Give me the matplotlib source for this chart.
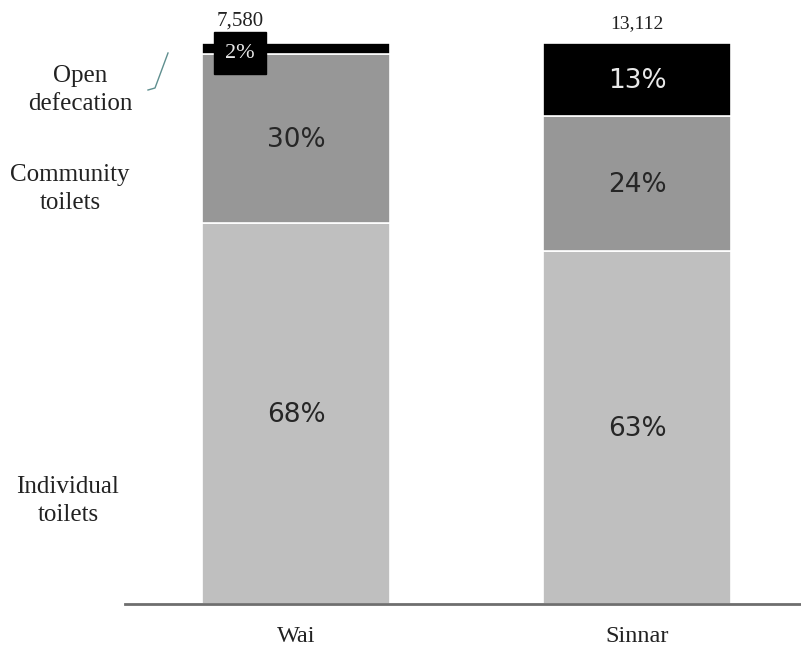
import matplotlib
matplotlib.use("Agg")
import matplotlib.pyplot as plt
from matplotlib.lines import Line2D

# data
places = ["Wai", "Sinnar"]
totals = ["7,580", "13,112"]
individual = [68, 63]
community = [30, 24]
open_def = [2, 13]
seg_names = ["Individual\ntoilets", "Community\ntoilets", "Open\ndefecation"]
seg_colors = ["#bfbfbf", "#979797", "#000000"]

serif = ["Liberation Serif", "DejaVu Serif"]
sans = ["DejaVu Sans"]

fig = plt.figure(figsize=(8.01, 6.51), dpi=100)
ax = fig.add_axes([125 / 801, 47 / 651, 676 / 801, 561 / 651])

x = [0, 1]
w = 0.551
bottoms = [0, 0]
for vals, col in zip([individual, community, open_def], seg_colors):
    ax.bar(x, vals, width=w, bottom=bottoms, color=col, edgecolor="white", linewidth=1.2)
    bottoms = [b + v for b, v in zip(bottoms, vals)]

# percent labels
for i in range(2):
    ax.text(x[i], individual[i] / 2 - 0.3, f"{individual[i]}%", ha="center", va="center",
            fontsize=19, family=sans, color="#262626")
    ax.text(x[i], individual[i] + community[i] / 2 - 0.3, f"{community[i]}%", ha="center", va="center",
            fontsize=19, family=sans, color="#262626")

# Sinnar open defecation inside the bar
ax.text(x[1], individual[1] + community[1] + open_def[1] / 2 - 0.3, f"{open_def[1]}%", ha="center",
        va="center", fontsize=19, family=sans, color="#e8e8e8")
# Wai open defecation is too thin, label in a black box
ax.text(x[0] - 0.165, 98.2, f"{open_def[0]}%", ha="center", va="center", fontsize=16, family=serif,
        color="#e8e8e8", bbox=dict(boxstyle="square,pad=0.5", fc="black", ec="black"))

# totals above bars
ax.text(x[0] - 0.165, 102.3, totals[0], ha="center", va="bottom", fontsize=15, family=serif, color="#222222")
ax.text(x[1], 102.0, totals[1], ha="center", va="bottom", fontsize=14, family=serif, color="#222222")

ax.set_xlim(-0.5015, 1.481)
ax.set_ylim(0, 100)
for s in ["top", "right", "left"]:
    ax.spines[s].set_visible(False)
ax.spines["bottom"].set_color("#6e6e6e")
ax.spines["bottom"].set_linewidth(2)
ax.set_yticks([])
ax.set_xticks(x)
ax.set_xticklabels(places, family=serif, fontsize=17.5, color="#222222")
ax.tick_params(axis="x", length=0, pad=16)

# segment names on the left
fig.text(80 / 801, 1 - 90 / 651, seg_names[2], ha="center", va="center", fontsize=18, family=serif,
         color="#222222", linespacing=1.3)
fig.text(70 / 801, 1 - 189 / 651, seg_names[1], ha="center", va="center", fontsize=18, family=serif,
         color="#222222", linespacing=1.3)
fig.text(68 / 801, 1 - 501 / 651, seg_names[0], ha="center", va="center", fontsize=18, family=serif,
         color="#222222", linespacing=1.3)

# little leader stroke next to "Open defecation"
fig.add_artist(Line2D([148 / 801, 155 / 801, 168 / 801], [1 - 90 / 651, 1 - 88 / 651, 1 - 53 / 651],
                      transform=fig.transFigure, color="#5f8f8f", linewidth=1))

fig.savefig("out.png", dpi=100)
